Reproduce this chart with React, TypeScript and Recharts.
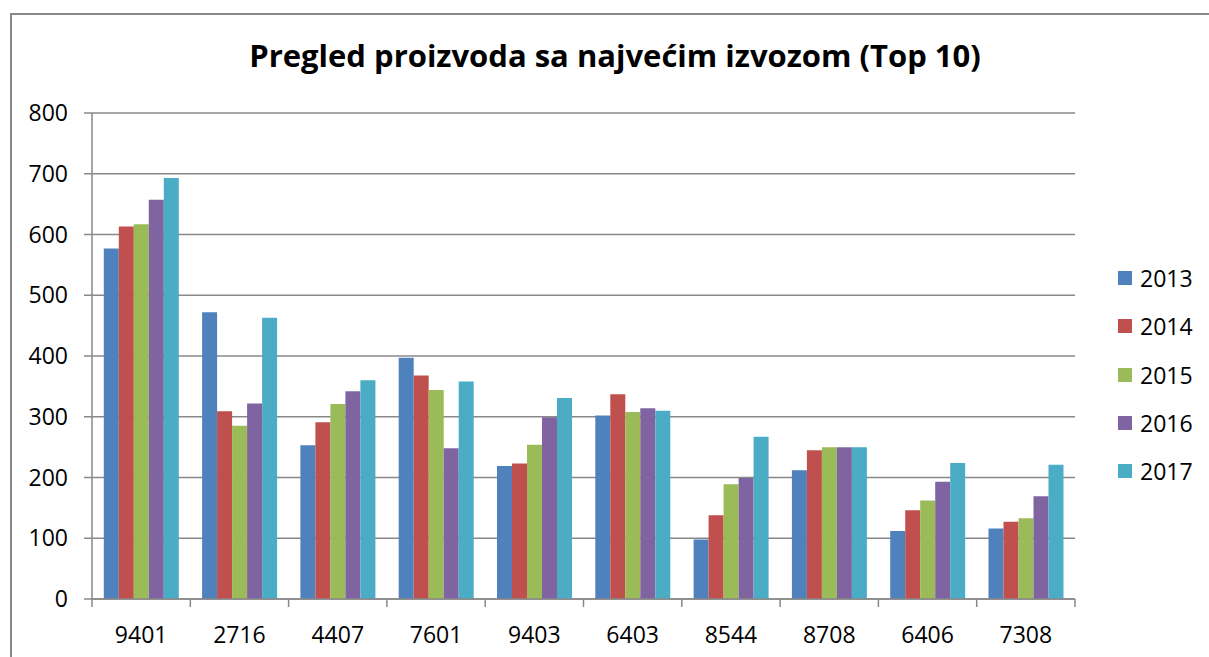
import { BarChart, Bar, XAxis, YAxis, CartesianGrid, Legend } from 'recharts';

const categories = ['9401', '2716', '4407', '7601', '9403', '6403', '8544', '8708', '6406', '7308'];

const y2013 = [577, 472, 253, 397, 219, 302, 98, 212, 112, 116];
const y2014 = [613, 309, 291, 368, 223, 337, 138, 245, 146, 127];
const y2015 = [617, 285, 321, 344, 254, 308, 189, 250, 162, 133];
const y2016 = [657, 322, 342, 248, 299, 314, 199, 250, 193, 169];
const y2017 = [693, 463, 360, 358, 331, 310, 267, 250, 224, 221];

const yTicks = [0, 100, 200, 300, 400, 500, 600, 700, 800];

const series = [
  { key: '2013', values: y2013, color: '#4F81BD' },
  { key: '2014', values: y2014, color: '#C0504D' },
  { key: '2015', values: y2015, color: '#9BBB59' },
  { key: '2016', values: y2016, color: '#8064A2' },
  { key: '2017', values: y2017, color: '#4BACC6' },
];

const title = 'Pregled proizvoda sa najvećim izvozom (Top 10)';

const data = categories.map((code, i) => {
  const row: Record<string, string | number> = { code };
  series.forEach(s => { row[s.key] = s.values[i]; });
  return row;
});

const W = 1209;
const H = 657;
const margin = { top: 113, right: 134, bottom: 0, left: 0 };
const yAxisWidth = 92;
const xAxisHeight = 58;
const plotW = W - margin.left - margin.right - yAxisWidth;
const band = plotW / categories.length;

const FONT = '"Open Sans", sans-serif';
const GRID = '#888888';

function XTick(props: any) {
  const { x, y, payload, index } = props;
  const left = x - band / 2;
  return (
    <g>
      <line x1={left} x2={left} y1={y} y2={y + 8} stroke={GRID} strokeWidth={1.5} />
      {index === categories.length - 1 && (
        <line x1={left + band} x2={left + band} y1={y} y2={y + 8} stroke={GRID} strokeWidth={1.5} />
      )}
      <text x={x} y={y + 44} textAnchor="middle" fontFamily={FONT} fontSize={23} fill="#000">
        {payload.value}
      </text>
    </g>
  );
}

function LegendBox() {
  return (
    <div style={{ fontFamily: FONT, fontSize: 23, color: '#000' }}>
      {series.map(s => (
        <div key={s.key} style={{ display: 'flex', alignItems: 'center', height: 48.3 }}>
          <span style={{ display: 'inline-block', width: 14, height: 14, background: s.color, marginRight: 8 }} />
          <span>{s.key}</span>
        </div>
      ))}
    </div>
  );
}

export default function App() {
  return (
    <div style={{ position: 'absolute', left: 0, top: 0, width: W, height: H, background: '#fff', overflow: 'hidden' }}>
      <div
        style={{
          position: 'absolute', left: 10, top: 13, width: W, height: H,
          borderLeft: `2px solid ${GRID}`, borderTop: `2px solid ${GRID}`,
        }}
      />
      <div
        style={{
          position: 'absolute', left: 0, width: 1230, top: 34, textAlign: 'center',
          fontFamily: FONT, fontWeight: 700, fontSize: 31, color: '#000',
        }}
      >
        {title}
      </div>
      <div style={{ position: 'absolute', left: 0, top: 0 }}>
        <BarChart width={W} height={H} data={data} margin={margin} barCategoryGap="12%" barGap={0}>
          <CartesianGrid vertical={false} stroke={GRID} strokeWidth={1.5} />
          <XAxis
            dataKey="code"
            height={xAxisHeight}
            tick={<XTick />}
            tickLine={false}
            tickSize={0}
            tickMargin={0}
            axisLine={{ stroke: GRID, strokeWidth: 1.5 }}
            interval={0}
          />
          <YAxis
            width={yAxisWidth}
            domain={[0, 800]}
            ticks={yTicks}
            interval={0}
            tickSize={8}
            tickMargin={16}
            tickLine={{ stroke: GRID, strokeWidth: 1.5 }}
            axisLine={{ stroke: GRID, strokeWidth: 1.5 }}
            tick={{ fontFamily: FONT, fontSize: 23, fill: '#000' }}
          />
          <Legend
            layout="vertical"
            align="center"
            verticalAlign="middle"
            content={<LegendBox />}
            wrapperStyle={{ left: 1118, top: 254, width: 90 }}
          />
          {series.map(s => (
            <Bar key={s.key} dataKey={s.key} fill={s.color} isAnimationActive={false} />
          ))}
        </BarChart>
      </div>
    </div>
  );
}
